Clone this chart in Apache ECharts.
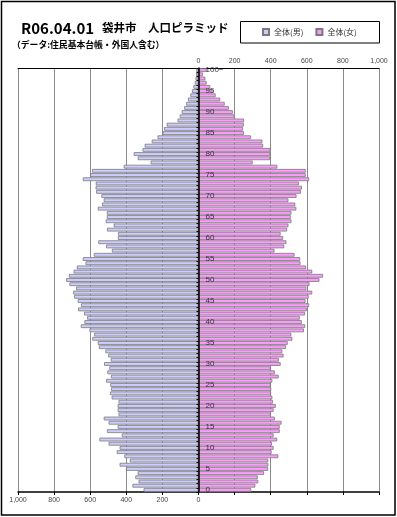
<!DOCTYPE html>
<html>
<head>
<meta charset="utf-8">
<script src="https://cdn.jsdelivr.net/npm/echarts@6/dist/echarts.min.js"></script>
<style>
html,body{margin:0;padding:0;background:#fff;}
#chart{width:397px;height:517px;}
</style>
</head>
<body>
<div id="chart"></div>
<script>
// Age categories 0..99 and "100~"
const ageLabels = Array.from({length: 100}, (_, i) => String(i)).concat(['100~']);

// Male population by age (index = age; last = 100+)
const maleValues = [
  304, 366, 332, 350, 337, 402, 437, 380, 411, 453,
  437, 498, 549, 425, 507, 448, 498, 525, 443, 448,
  448, 443, 481, 490, 484, 489, 512, 485, 505, 494,
  523, 486, 500, 516, 552, 558, 588, 578, 604, 652,
  632, 617, 634, 667, 651, 669, 689, 694, 678, 715,
  733, 718, 692, 674, 626, 641, 580, 480, 512, 555,
  447, 446, 507, 470, 514, 508, 508, 558, 534, 525,
  538, 567, 570, 569, 641, 600, 590, 414, 265, 337,
  359, 310, 298, 259, 227, 199, 191, 176, 116, 104,
  93, 79, 68, 58, 45, 36, 28, 20, 16, 13,
  12
];

// Female population by age (index = age; last = 100+)
const femaleValues = [
  292, 315, 331, 328, 363, 386, 387, 386, 442, 405,
  416, 407, 436, 416, 450, 450, 460, 423, 400, 416,
  428, 412, 409, 402, 403, 400, 409, 444, 423, 400,
  455, 445, 471, 464, 485, 494, 520, 514, 584, 591,
  572, 561, 590, 600, 613, 593, 610, 630, 598, 615,
  670, 690, 630, 596, 565, 563, 532, 421, 475, 487,
  469, 455, 491, 498, 515, 511, 515, 542, 536, 498,
  543, 567, 573, 556, 613, 594, 594, 437, 300, 396,
  398, 398, 358, 354, 291, 252, 247, 251, 252, 200,
  190, 168, 145, 120, 95, 78, 65, 45, 38, 24,
  45
];

// Axis tick values (shown as absolute values)
const tickStep = 200;
const axisMax = 1000;

const seriesNames = ['全体(男)', '全体(女)'];
const titleMain = 'R06.04.01';
const titleCity = '袋井市　人口ピラミッド';
const subTitle = '（データ:住民基本台帳・外国人含む）';

function fmt(v) { return Math.abs(v).toLocaleString('en-US'); }

const gridLeft = 18, gridRight = 18, chartW = 397;
const centerOffset = -((chartW - gridLeft - gridRight) / 2);

const chart = echarts.init(document.getElementById('chart'), null, {renderer: 'canvas'});
const JP = '"Noto Sans CJK JP", sans-serif';

chart.setOption({
  animation: false,
  backgroundColor: '#fff',
  textStyle: {fontFamily: JP},
  grid: {left: gridLeft, right: gridRight, top: 68, bottom: 25, containLabel: false},
  legend: {
    data: seriesNames,
    left: 262, top: 28,
    icon: 'rect',
    itemWidth: 6, itemHeight: 6, itemGap: 12,
    padding: 0,
    textStyle: {fontSize: 8, color: '#333', fontFamily: JP}
  },
  xAxis: [
    {
      type: 'value', position: 'bottom',
      min: -axisMax, max: axisMax, interval: tickStep,
      axisLine: {show: true, onZero: false, lineStyle: {color: '#000', width: 1.5}},
      axisTick: {show: true, length: 3, lineStyle: {color: '#000', width: 1}},
      splitLine: {show: true, lineStyle: {color: '#8a8a8a', width: 1}},
      axisLabel: {
        formatter: v => (v <= 0 ? fmt(v) : ''),
        fontSize: 7, color: '#444', margin: 5, fontFamily: 'Liberation Sans, sans-serif'
      }
    },
    {
      type: 'value', position: 'top',
      min: -axisMax, max: axisMax, interval: tickStep,
      axisLine: {show: true, onZero: false, lineStyle: {color: '#000', width: 1}},
      axisTick: {show: false},
      splitLine: {show: false},
      axisLabel: {
        formatter: v => (v >= 0 ? fmt(v) : ''),
        fontSize: 7, color: '#444', margin: 3, fontFamily: 'Liberation Sans, sans-serif'
      }
    }
  ],
  yAxis: {
    type: 'category',
    data: ageLabels,
    position: 'left',
    offset: centerOffset,
    z: 5,
    axisLine: {show: true, onZero: false, lineStyle: {color: '#000', width: 1.5}},
    axisTick: {show: true, interval: 0, length: 2, lineStyle: {color: '#000', width: 1}},
    axisLabel: {
      inside: true,
      interval: (i) => i % 5 === 0,
      fontSize: 8, color: '#3a3040', margin: 7,
      fontFamily: 'Liberation Sans, sans-serif'
    },
    splitLine: {show: false}
  },
  series: [
    {
      name: seriesNames[0], type: 'bar', xAxisIndex: 0,
      data: maleValues.map(v => -v),
      barGap: '-100%', barCategoryGap: '10%',
      itemStyle: {color: '#ccccff', borderColor: '#7a7a7a', borderWidth: 0.8},
      emphasis: {disabled: true}
    },
    {
      name: seriesNames[1], type: 'bar', xAxisIndex: 0,
      data: femaleValues,
      barGap: '-100%', barCategoryGap: '10%',
      itemStyle: {color: '#ff99ff', borderColor: '#7a7a7a', borderWidth: 0.8},
      emphasis: {disabled: true}
    }
  ],
  graphic: [
    {type: 'rect', shape: {x: 1.5, y: 1.5, width: 393.5, height: 513.5},
     style: {fill: 'none', stroke: '#000', lineWidth: 1.5}, silent: true},
    {type: 'rect', shape: {x: 240.5, y: 21.5, width: 139, height: 21.5},
     style: {fill: 'none', stroke: '#000', lineWidth: 1}, silent: true},
    {type: 'text', x: 21, y: 28,
     style: {text: titleMain, font: 'bold 15px ' + JP, fill: '#000', textVerticalAlign: 'middle'}},
    {type: 'text', x: 102, y: 28,
     style: {text: titleCity, font: 'bold 11.5px ' + JP, fill: '#000', textVerticalAlign: 'middle'}},
    {type: 'text', x: 12, y: 45,
     style: {text: subTitle, font: 'bold 8.8px ' + JP, fill: '#000', textVerticalAlign: 'middle'}}
  ]
});
</script>
</body>
</html>
